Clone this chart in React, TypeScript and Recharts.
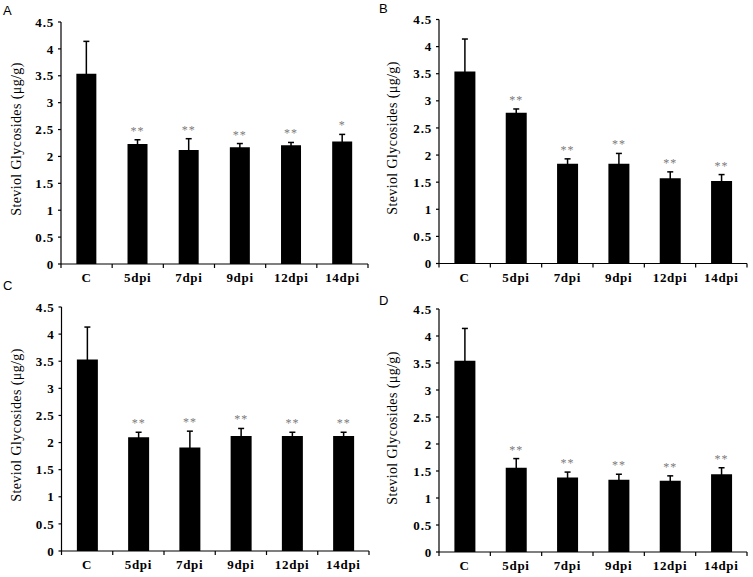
import React from "react";
import { BarChart, Bar, XAxis, YAxis, ErrorBar, LabelList } from "recharts";

const categories = ["C", "5dpi", "7dpi", "9dpi", "12dpi", "14dpi"];
const yTicks = [0, 0.5, 1, 1.5, 2, 2.5, 3, 3.5, 4, 4.5];

// panel A
const valuesA = [3.54, 2.23, 2.12, 2.17, 2.21, 2.28];
const errorsA = [0.6, 0.08, 0.21, 0.07, 0.05, 0.13];
const marksA = ["", "**", "**", "**", "**", "*"];

// panel B
const valuesB = [3.54, 2.78, 1.84, 1.84, 1.57, 1.52];
const errorsB = [0.6, 0.07, 0.09, 0.19, 0.12, 0.12];
const marksB = ["", "**", "**", "**", "**", "**"];

// panel C
const valuesC = [3.53, 2.1, 1.91, 2.12, 2.12, 2.12];
const errorsC = [0.6, 0.09, 0.3, 0.14, 0.07, 0.07];
const marksC = ["", "**", "**", "**", "**", "**"];

// panel D
const valuesD = [3.54, 1.56, 1.38, 1.34, 1.32, 1.44];
const errorsD = [0.6, 0.17, 0.1, 0.1, 0.09, 0.12];
const marksD = ["", "**", "**", "**", "**", "**"];

const SERIF = '"Liberation Serif", "Times New Roman", serif';
const SANS = '"Liberation Sans", Arial, sans-serif';
const Y_LABEL = "Steviol Glycosides (\u03bcg/g)";

const CategoryTick = (props: any) => {
  const { x, y, payload, index } = props;
  const half = payload?.offset ?? 25.6;
  return (
    <g>
      {index === 0 && (
        <line x1={x - half} y1={y} x2={x - half} y2={y + 4} stroke="#000" strokeWidth={1.2} />
      )}
      <line x1={x + half} y1={y} x2={x + half} y2={y + 4} stroke="#000" strokeWidth={1.2} />
      <text
        x={x}
        y={y + 18}
        textAnchor="middle"
        fontFamily={SERIF}
        fontWeight="bold"
        fontSize={13}
        letterSpacing={0.7}
        fill="#000"
      >
        {payload.value}
      </text>
    </g>
  );
};

interface PanelProps {
  letter: string;
  values: number[];
  errors: number[];
  marks: string[];
  left: number;
  top: number;
  height: number;
  plotTop: number;
  axisWidth: number;
  rightGap: number;
  xAxisHeight: number;
  letterTop: number;
  labelY: number;
}

const Panel = ({
  letter,
  values,
  errors,
  marks,
  left,
  top,
  height,
  plotTop,
  axisWidth,
  rightGap,
  xAxisHeight,
  letterTop,
  labelY,
}: PanelProps) => {
  const data = categories.map((name, i) => ({
    name,
    value: values[i],
    err: errors[i],
    mark: marks[i],
    idx: i,
  }));

  // asterisks sit a little above the top of each error bar
  const renderMark = (props: any) => {
    const box = props.viewBox && props.viewBox.width != null ? props.viewBox : props;
    const { x, y, width, height: h } = box;
    const row = data[Number(props.value)];
    if (!row || !row.mark) return null;
    const pxPerUnit = h / row.value;
    const errTop = y - row.err * pxPerUnit;
    return (
      <text
        x={x + width / 2}
        y={errTop - 5}
        textAnchor="middle"
        fontFamily={SERIF}
        fontSize={12}
        letterSpacing={1}
        fill="#7a7a7a"
      >
        {row.mark}
      </text>
    );
  };

  return (
    <>
      <div
        style={{
          position: "absolute",
          left: left + 3,
          top: letterTop,
          fontFamily: SANS,
          fontSize: 13,
          lineHeight: 1,
          color: "#000",
        }}
      >
        {letter}
      </div>
      <div
        style={{
          position: "absolute",
          left: left + 17,
          top: labelY,
          transform: "translate(-50%, -50%) rotate(-90deg)",
          whiteSpace: "nowrap",
          fontFamily: SERIF,
          fontSize: 14,
          letterSpacing: 0.4,
          color: "#000",
        }}
      >
        {Y_LABEL}
      </div>
      <BarChart
        width={376}
        height={height}
        data={data}
        margin={{ top: plotTop, right: rightGap, left: 0, bottom: 0 }}
        barCategoryGap="30%"
        style={{ position: "absolute", left, top }}
      >
        <XAxis
          dataKey="name"
          interval={0}
          height={xAxisHeight}
          tickSize={0}
          tickMargin={0}
          tickLine={false}
          axisLine={{ stroke: "#000", strokeWidth: 1.2 }}
          tick={<CategoryTick />}
        />
        <YAxis
          width={axisWidth}
          domain={[0, 4.5]}
          ticks={yTicks}
          tickSize={3}
          tickMargin={4}
          axisLine={{ stroke: "#000", strokeWidth: 1.2 }}
          tickLine={{ stroke: "#000", strokeWidth: 1.2 }}
          tick={{
            fill: "#000",
            fontFamily: SERIF,
            fontWeight: "bold",
            fontSize: 13,
            letterSpacing: 0.8,
          }}
        />
        <Bar dataKey="value" fill="#000" isAnimationActive={false}>
          <ErrorBar dataKey="err" direction="y" width={3} stroke="#000" strokeWidth={1.5} />
          <LabelList dataKey="idx" content={renderMark} />
        </Bar>
      </BarChart>
    </>
  );
};

export default function App() {
  return (
    <div
      style={{
        position: "absolute",
        left: 0,
        top: 0,
        width: 753,
        height: 577,
        background: "#fff",
        overflow: "hidden",
      }}
    >
      <Panel
        letter="A"
        values={valuesA}
        errors={errorsA}
        marks={marksA}
        left={0}
        top={0}
        height={290}
        plotTop={22}
        axisWidth={61}
        rightGap={8}
        xAxisHeight={26}
        letterTop={4}
        labelY={139}
      />
      <Panel
        letter="B"
        values={valuesB}
        errors={errorsB}
        marks={marksB}
        left={376}
        top={0}
        height={290}
        plotTop={19.5}
        axisWidth={63}
        rightGap={5}
        xAxisHeight={26.5}
        letterTop={2}
        labelY={138}
      />
      <Panel
        letter="C"
        values={valuesC}
        errors={errorsC}
        marks={marksC}
        left={0}
        top={290}
        height={287}
        plotTop={17}
        axisWidth={61.5}
        rightGap={7}
        xAxisHeight={26}
        letterTop={279}
        labelY={425}
      />
      <Panel
        letter="D"
        values={valuesD}
        errors={errorsD}
        marks={marksD}
        left={376}
        top={290}
        height={287}
        plotTop={19}
        axisWidth={63}
        rightGap={5}
        xAxisHeight={25}
        letterTop={294}
        labelY={428}
      />
    </div>
  );
}
